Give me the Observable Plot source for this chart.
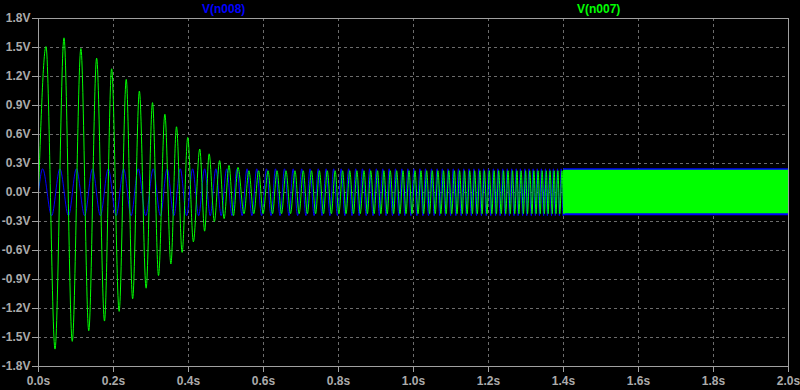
<!DOCTYPE html>
<html><head><meta charset="utf-8">
<script src="https://cdn.jsdelivr.net/npm/d3@7"></script>
<script src="https://cdn.jsdelivr.net/npm/@observablehq/plot@0.6"></script>
<style>
html,body{margin:0;padding:0;background:#000;}
#wrap{position:relative;width:800px;height:390px;background:#000;overflow:hidden;}
.lbl{position:absolute;top:2px;font:bold 12px "Liberation Sans",Arial,sans-serif;line-height:14px;white-space:nowrap;}
</style></head><body>
<div id="wrap"></div>
<script>
// ---- series names / colours ----
const seriesNames = ["V(n008)", "V(n007)"];
const seriesColors = ["#0000ff", "#00ff00"];

// ---- axis ticks ----
const xTicks = [0, 0.2, 0.4, 0.6, 0.8, 1.0, 1.2, 1.4, 1.6, 1.8, 2.0];
const xTickLabels = ["0.0s","0.2s","0.4s","0.6s","0.8s","1.0s","1.2s","1.4s","1.6s","1.8s","2.0s"];
const yTicks = [-1.8, -1.5, -1.2, -0.9, -0.6, -0.3, 0, 0.3, 0.6, 0.9, 1.2, 1.5, 1.8];
const yTickLabels = ["-1.8V","-1.5V","-1.2V","-0.9V","-0.6V","-0.3V","0.0V","0.3V","0.6V","0.9V","1.2V","1.5V","1.8V"];

// ---- V(n008) (blue): start point, peak and trough times (s), levels (V) ----
const blueStartT = [0];
const blueStartV = [0];
const bluePeakT = [0.011,0.057,0.101,0.144,0.186,0.227,0.266,0.306,0.343,0.378,0.411,0.443,0.473,0.502,0.529,0.556,0.582,0.608,0.632,0.656,0.679,0.702,0.724,0.746,0.767,0.787,0.807,0.827,0.846,0.864,0.883,0.901,0.918,0.935,0.952,0.969,0.985,1.001,1.017,1.032,1.048,1.063,1.077,1.092,1.106,1.120,1.134,1.148,1.161,1.174,1.187,1.200,1.213,1.225,1.238,1.250,1.262,1.274,1.285,1.297,1.308,1.319,1.330,1.341,1.352,1.363,1.373,1.384,1.394,1.404];
const blueTroughT = [0.035,0.080,0.123,0.165,0.207,0.247,0.286,0.325,0.361,0.395,0.427,0.458,0.487,0.516,0.543,0.569,0.595,0.620,0.644,0.668,0.691,0.713,0.735,0.756,0.777,0.797,0.817,0.836,0.855,0.874,0.892,0.909,0.927,0.944,0.961,0.977,0.993,1.009,1.025,1.040,1.055,1.070,1.085,1.099,1.113,1.127,1.141,1.154,1.168,1.181,1.194,1.206,1.219,1.231,1.244,1.256,1.268,1.279,1.291,1.302,1.314,1.325,1.336,1.347,1.357,1.368,1.378,1.389,1.399];
const blueHigh = 0.245;
const blueLow = -0.24;

// ---- V(n007) (green): decaying transient extrema ----
const greenTransT = [0.000,0.020,0.044,0.068,0.090,0.113,0.134,0.155,0.176,0.195,0.215,0.234,0.251,0.269,0.287,0.304,0.320,0.337,0.353,0.368,0.383,0.398,0.413,0.430,0.443,0.455,0.469,0.483,0.495,0.508,0.520,0.532];
const greenTransV = [0.00,1.51,-1.62,1.60,-1.54,1.49,-1.43,1.39,-1.33,1.28,-1.23,1.17,-1.10,1.05,-0.99,0.93,-0.86,0.81,-0.74,0.68,-0.62,0.57,-0.51,0.45,-0.40,0.40,-0.30,0.33,-0.27,0.28,-0.24,0.26];
// steady part: peak and trough times
const greenPeakT = [0.561,0.587,0.612,0.636,0.660,0.684,0.706,0.728,0.749,0.770,0.791,0.811,0.830,0.849,0.868,0.886,0.904,0.921,0.938,0.955,0.972,0.988,1.004,1.020,1.035,1.050,1.065,1.080,1.094,1.109,1.123,1.136,1.150,1.163,1.177,1.189,1.202,1.215,1.227,1.240,1.252,1.264,1.276,1.287,1.299,1.310,1.321,1.332,1.343,1.354,1.364,1.375,1.385,1.396,1.406];
const greenTroughT = [0.548,0.574,0.599,0.624,0.648,0.672,0.695,0.717,0.739,0.760,0.781,0.801,0.820,0.840,0.858,0.877,0.895,0.913,0.930,0.947,0.964,0.980,0.996,1.012,1.027,1.043,1.058,1.073,1.087,1.102,1.116,1.130,1.143,1.157,1.170,1.183,1.196,1.209,1.221,1.234,1.246,1.258,1.270,1.281,1.293,1.304,1.316,1.327,1.338,1.349,1.359,1.370,1.380,1.390,1.401];
const greenHigh = 0.225;
const greenLow = -0.22;

// ---- dense tail (oscillation too fast to resolve): envelope ----
const tailT = [1.40, 2.00];
const blueTailHi = [0.245, 0.245];
const blueTailLo = [-0.24, -0.24];
const greenTailHi = [0.23, 0.23];
const greenTailLo = [-0.22, -0.22];

// ---- build tables ----
const byT = (a, b) => a.t - b.t;
const blue = [
  ...blueStartT.map((t, i) => ({t, v: blueStartV[i]})),
  ...bluePeakT.map(t => ({t, v: blueHigh})),
  ...blueTroughT.map(t => ({t, v: blueLow}))
].sort(byT);
const green = [
  ...greenTransT.map((t, i) => ({t, v: greenTransV[i]})),
  ...greenPeakT.map(t => ({t, v: greenHigh})),
  ...greenTroughT.map(t => ({t, v: greenLow}))
].sort(byT);
const blueTail = tailT.map((t, i) => ({t, lo: blueTailLo[i], hi: blueTailHi[i]}));
const greenTail = tailT.map((t, i) => ({t, lo: greenTailLo[i], hi: greenTailHi[i]}));

const xLabel = new Map(xTicks.map((d, i) => [d, xTickLabels[i]]));
const yLabel = new Map(yTicks.map((d, i) => [d, yTickLabels[i]]));

const GRID = "#6c6c6c", FRAME = "#a0a0a0", TEXT = "#ababab";

const chart = Plot.plot({
  width: 800,
  height: 390,
  marginLeft: 38,
  marginRight: 12,
  marginTop: 18,
  marginBottom: 24,
  x: {domain: [0, 2]},
  y: {domain: [-1.8, 1.8]},
  style: {
    background: "#000",
    fontFamily: '"Liberation Sans", Arial, sans-serif',
    fontSize: "12px",
    fontWeight: "bold",
    overflow: "visible"
  },
  marks: [
    Plot.gridX(xTicks.slice(1, -1), {stroke: GRID, strokeOpacity: 1, strokeDasharray: "3,3"}),
    Plot.gridY(yTicks.slice(1, -1), {stroke: GRID, strokeOpacity: 1, strokeDasharray: "3,3"}),
    Plot.line(blue, {x: "t", y: "v", stroke: seriesColors[0], strokeWidth: 1, curve: "monotone-x"}),
    Plot.areaY(blueTail, {x: "t", y1: "lo", y2: "hi", fill: seriesColors[0]}),
    Plot.line(green, {x: "t", y: "v", stroke: seriesColors[1], strokeWidth: 1, curve: "monotone-x"}),
    Plot.areaY(greenTail, {x: "t", y1: "lo", y2: "hi", fill: seriesColors[1]}),
    Plot.frame({stroke: FRAME}),
    Plot.axisX(xTicks, {tickFormat: d => xLabel.get(d), tickSize: 6, tickPadding: 4, stroke: FRAME, fill: TEXT, label: null}),
    Plot.axisY(yTicks, {tickFormat: d => yLabel.get(d), tickSize: 6, tickPadding: 2, stroke: FRAME, fill: TEXT, label: null})
  ]
});

const wrap = document.getElementById("wrap");
wrap.appendChild(chart);
const lblLeft = ["202px", "577px"];
seriesNames.forEach((name, i) => {
  const d = document.createElement("div");
  d.className = "lbl";
  d.textContent = name;
  d.style.color = seriesColors[i];
  d.style.left = lblLeft[i];
  wrap.appendChild(d);
});
</script>
</body></html>
